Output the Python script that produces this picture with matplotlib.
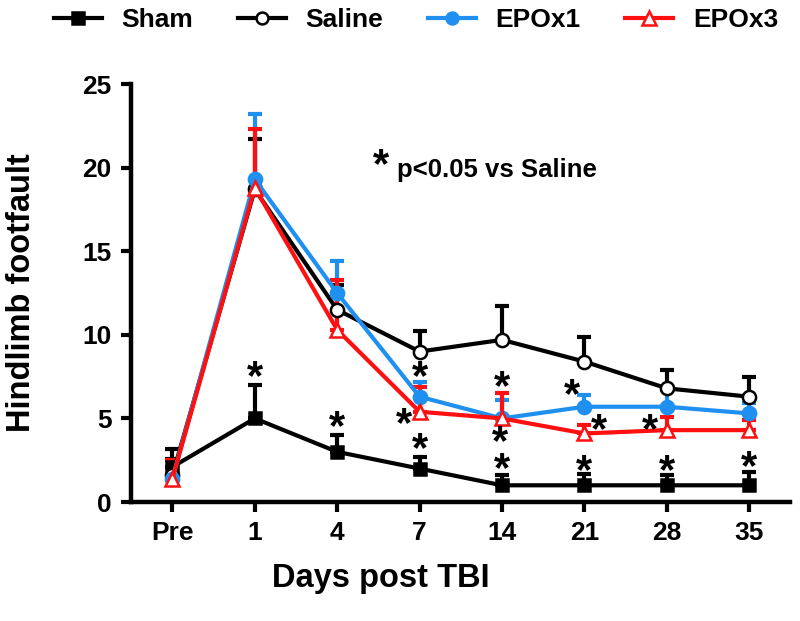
import numpy as np
import matplotlib
matplotlib.use("Agg")
import matplotlib.pyplot as plt

plt.rcParams['font.family'] = ['Liberation Sans', 'DejaVu Sans']
plt.rcParams['font.weight'] = 'bold'

days = ["Pre", "1", "4", "7", "14", "21", "28", "35"]

sham_mean = [2.1, 5.0, 3.0, 2.0, 1.0, 1.0, 1.0, 1.0]
sham_err = [1.1, 2.0, 1.0, 0.7, 0.6, 0.7, 0.6, 0.8]
saline_mean = [1.6, 18.7, 11.5, 9.0, 9.7, 8.4, 6.8, 6.3]
saline_err = [1.0, 3.0, 1.5, 1.2, 2.0, 1.5, 1.1, 1.2]
epo1_mean = [1.4, 19.3, 12.5, 6.3, 5.0, 5.7, 5.7, 5.3]
epo1_err = [1.1, 3.9, 1.9, 0.9, 1.1, 0.7, 1.0, 0.6]
epo3_mean = [1.4, 18.8, 10.3, 5.4, 5.0, 4.1, 4.3, 4.3]
epo3_err = [1.1, 3.5, 3.0, 1.5, 1.5, 0.5, 0.8, 0.6]

# significance stars: (day index, y, x shift)
stars = [(1, 8.0, 0), (2, 5.0, 0), (3, 3.7, 0), (4, 2.5, 0), (5, 2.4, 0),
         (6, 2.4, 0), (7, 2.6, 0),
         (3, 8.0, 0), (3, 5.2, -0.19), (4, 7.4, 0), (4, 4.1, -0.03),
         (5, 6.9, -0.15), (5, 4.8, 0.18), (6, 4.85, -0.2)]

x = np.arange(len(days))

fig = plt.figure(figsize=(8, 6.21), dpi=100)
ax = fig.add_axes([0.164, 0.1916, 0.824, 0.673])

series = [
    ("Sham", sham_mean, sham_err, "black", "s", "black", 9),
    ("Saline", saline_mean, saline_err, "black", "o", "white", 9.5),
    ("EPOx1", epo1_mean, epo1_err, "#1f8ff0", "o", "#1f8ff0", 9.5),
    ("EPOx3", epo3_mean, epo3_err, "#ff1010", "^", "white", 10.5),
]

for name, m, e, c, mk, fc, ms in series:
    m = np.array(m)
    e = np.array(e)
    ax.errorbar(x, m, yerr=[np.zeros_like(e), e], fmt="none", ecolor=c,
                elinewidth=3, capsize=5, capthick=3, zorder=2)
    ax.plot(x, m, color=c, lw=3, marker=mk, ms=ms,
            mfc=fc, mec=c, mew=1.8, label=name, zorder=3)


def star(xv, yv):
    ax.annotate("*", (xv, yv), xytext=(0, -7), textcoords="offset points",
                fontsize=30, ha="center", va="center", fontweight="bold")


for i, y, dx in stars:
    star(i + dx, y)

star(2.53, 20.7)
ax.text(2.72, 19.46, "p<0.05 vs Saline", fontsize=18.5, ha="left",
        va="baseline", fontweight="bold")

ax.set_xlim(-0.5, 7.5)
ax.set_ylim(0, 25)
ax.set_xticks(x)
ax.set_xticklabels(days)
ax.set_yticks([0, 5, 10, 15, 20, 25])
for s in ["top", "right"]:
    ax.spines[s].set_visible(False)
for s in ["left", "bottom"]:
    ax.spines[s].set_linewidth(3.2)
ax.tick_params(width=3, length=7, labelsize=19, pad=7)
for lab in ax.get_xticklabels() + ax.get_yticklabels():
    lab.set_fontweight("bold")

ax.set_xlabel("Days post TBI", fontsize=23.5, fontweight="bold")
ax.set_ylabel("Hindlimb footfault", fontsize=23.5, fontweight="bold")
ax.xaxis.label.set_va("center")
ax.yaxis.label.set_va("center")
ax.xaxis.set_label_coords(0.378, -0.182)
ax.yaxis.set_label_coords(-0.167, 0.5)

fig.legend(loc="center left", bbox_to_anchor=(0.068, 0.968), ncol=4,
           frameon=False, borderpad=0, borderaxespad=0,
           handlelength=1.8, columnspacing=1.7, handletextpad=0.75,
           markerscale=0.9, prop={"weight": "bold", "size": 19})

fig.savefig("out.png", dpi=100)
